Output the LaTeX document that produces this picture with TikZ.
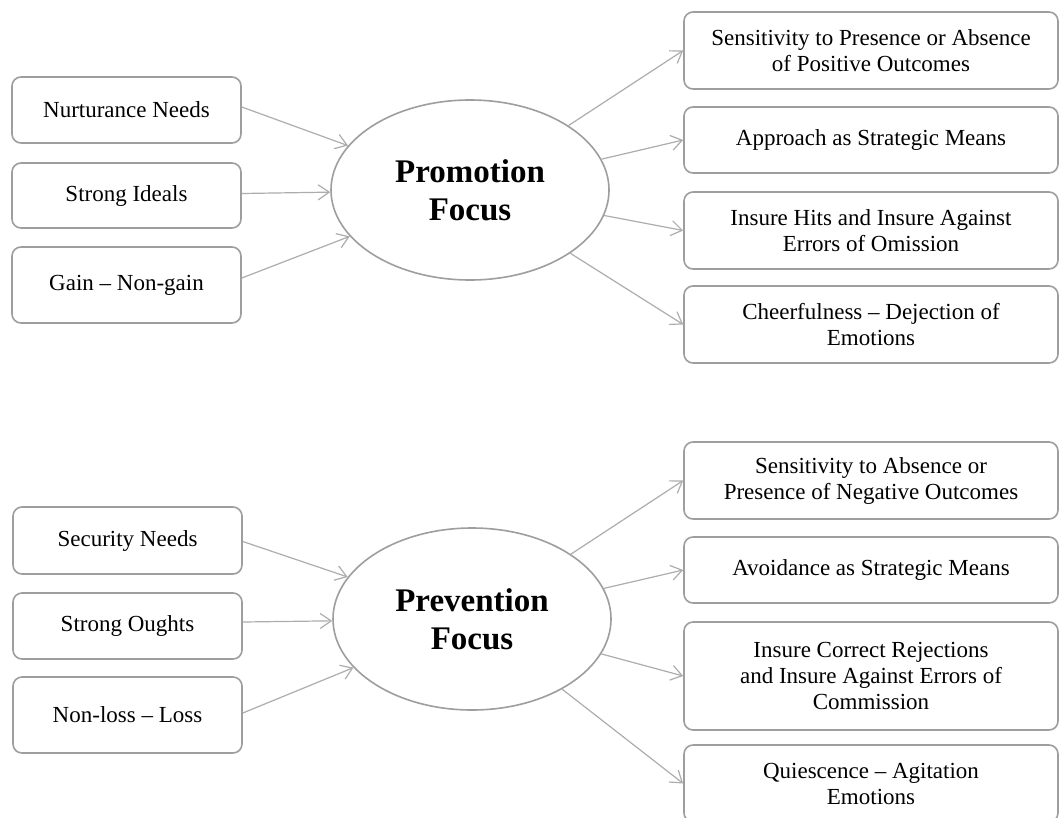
\documentclass[tikz,border=0pt]{standalone}
\usepackage{fontspec}
\setmainfont{Liberation Serif}
\usetikzlibrary{arrows.meta,shapes.geometric}
\begin{document}
\begin{tikzpicture}[x=1pt,y=-1pt,
  box/.style={draw=black!38, line width=1.6pt, rounded corners=9pt, fill=white,
    align=center, inner sep=0pt, font=\fontsize{23}{26}\selectfont},
  lbox/.style={box, minimum width=229pt},
  rbox/.style={box, minimum width=374pt},
  focus/.style={ellipse, draw=black!38, line width=1.6pt, fill=white,
    minimum width=278pt, inner sep=0pt, align=center,
    font=\fontsize{33}{38}\selectfont\bfseries},
  conn/.style={draw=black!32, line width=1.2pt,
    -{Straight Barb[length=11pt,width=15pt]}}]
\clip (0,0) rectangle (1059,817);
\fill[white] (0,0) rectangle (1059,817);

% ---------- Promotion ----------
\node[focus, minimum height=180pt] (pro) at (470,190) {Promotion\\Focus};
\node[lbox, minimum height=66pt] (a1) at (126.5,110) {Nurturance Needs};
\node[lbox, minimum height=65pt] (a2) at (126.5,195.5) {Strong Ideals};
\node[lbox, minimum height=76pt] (a3) at (126.5,285) {Gain – Non-gain};

\node[rbox, minimum height=77pt] (p1) at (871,50.5) {Sensitivity to Presence or Absence\\of Positive Outcomes};
\node[rbox, minimum height=66pt] (p2) at (871,140) {Approach as Strategic Means};
\node[rbox, minimum height=77pt] (p3) at (871,230.5) {Insure Hits and Insure Against\\Errors of Omission};
\node[rbox, minimum height=77pt] (p4) at (871,324.5) {Cheerfulness – Dejection of\\Emotions};

\draw[conn] ([yshift=3pt]a1.east) -- (pro);
\draw[conn] ([yshift=2pt]a2.east) -- (pro);
\draw[conn] ([yshift=7pt]a3.east) -- (pro);
\draw[conn] (pro) -- (p1.west);
\draw[conn] (pro) -- (p2.west);
\draw[conn] (pro) -- (p3.west);
\draw[conn] (pro) -- (p4.west);

% ---------- Prevention ----------
\node[focus, minimum height=182pt] (pre) at (472,619) {Prevention\\Focus};
\node[lbox, minimum height=67pt] (b1) at (127.5,540.5) {Security Needs};
\node[lbox, minimum height=66pt] (b2) at (127.5,626) {Strong Oughts};
\node[lbox, minimum height=76pt] (b3) at (127.5,715) {Non-loss – Loss};

\node[rbox, minimum height=77pt] (q1) at (871,480.5) {Sensitivity to Absence or\\Presence of Negative Outcomes};
\node[rbox, minimum height=66pt] (q2) at (871,570) {Avoidance as Strategic Means};
\node[rbox, minimum height=108pt] (q3) at (871,676) {Insure Correct Rejections\\and Insure Against Errors of\\Commission};
\node[rbox, minimum height=77pt] (q4) at (871,783.5) {Quiescence – Agitation\\Emotions};

\draw[conn] ([yshift=-1pt]b1.east) -- (pre);
\draw[conn] ([yshift=4pt]b2.east) -- (pre);
\draw[conn] ([yshift=2pt]b3.east) -- (pre);
\draw[conn] (pre) -- (q1.west);
\draw[conn] (pre) -- (q2.west);
\draw[conn] (pre) -- (q3.west);
\draw[conn] (pre) -- (q4.west);
\end{tikzpicture}
\end{document}
